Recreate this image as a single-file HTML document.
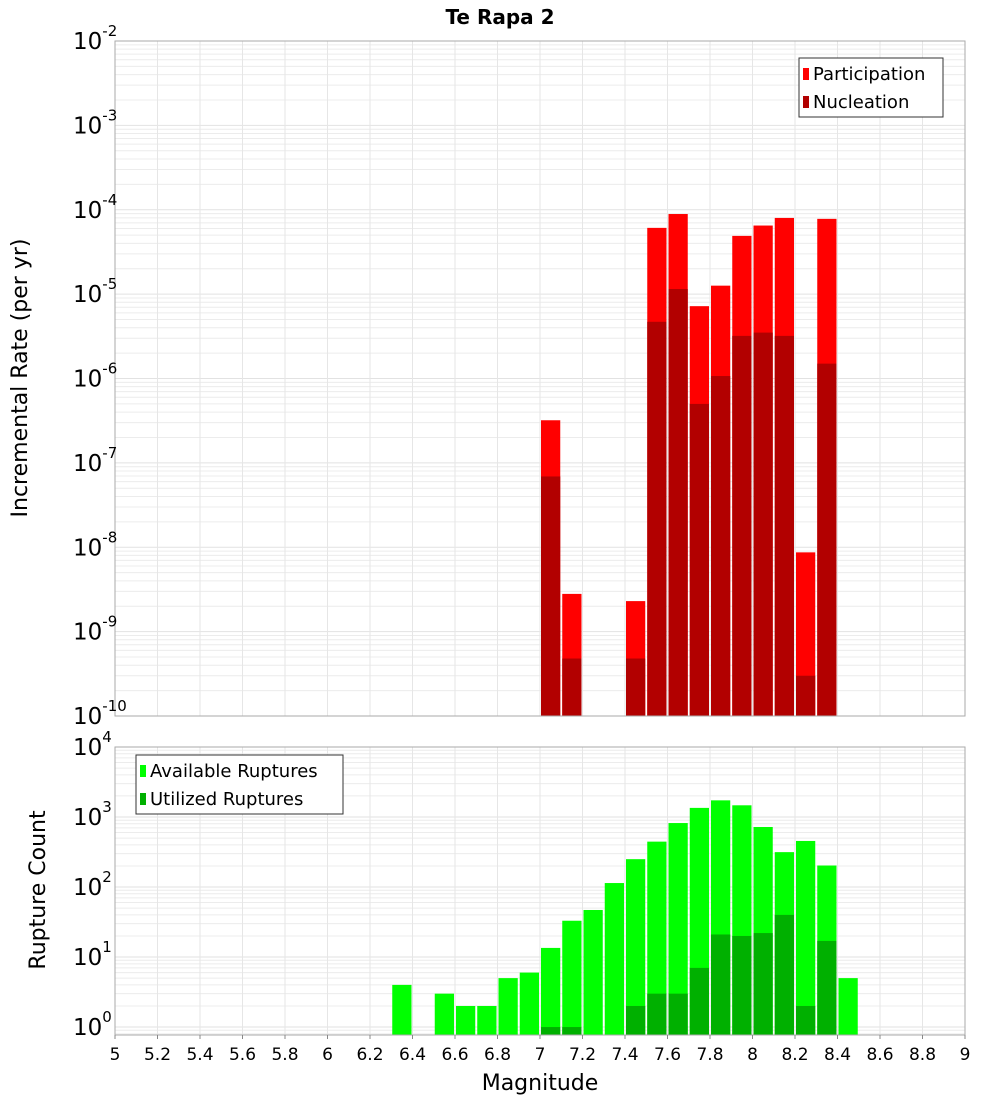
<!DOCTYPE html>
<html><head><meta charset="utf-8"><style>
body{margin:0;background:#fff;}
svg{font-family:"DejaVu Sans","Liberation Sans",sans-serif;}
</style></head><body>
<svg id="c" width="1000" height="1100" xmlns="http://www.w3.org/2000/svg">
<text x="500" y="24" text-anchor="middle" font-size="20" font-weight="bold">Te Rapa 2</text>
<g id="top"></g>
<g id="bot"></g>
<text transform="translate(27,378) rotate(-90)" text-anchor="middle" font-size="22">Incremental Rate (per yr)</text>
<text transform="translate(45,890) rotate(-90)" text-anchor="middle" font-size="22">Rupture Count</text>
<text x="540" y="1090" text-anchor="middle" font-size="22">Magnitude</text>
</svg>
<script>
const binStarts=[6.3,6.4,6.5,6.6,6.7,6.8,6.9,7.0,7.1,7.2,7.3,7.4,7.5,7.6,7.7,7.8,7.9,8.0,8.1,8.2,8.3,8.4];
const participation=[0,0,0,0,0,0,0,3.2e-7,2.8e-9,0,0,2.3e-9,6.1e-5,8.9e-5,7.2e-6,1.26e-5,4.9e-5,6.5e-5,8e-5,8.7e-9,7.8e-5,0];
const nucleation=[0,0,0,0,0,0,0,6.9e-8,4.8e-10,0,0,4.8e-10,4.7e-6,1.15e-5,5e-7,1.07e-6,3.2e-6,3.5e-6,3.2e-6,3e-10,1.5e-6,0];
const available=[4,0,3,2,2,5,6,13.5,33,47,114,250,445,820,1350,1730,1470,720,315,455,203,5];
const utilized=[0,0,0,0,0,0,0,1,1,0,0,2,3,3,7,21,20,22,40,2,17,0];
const xTicks=[5,5.2,5.4,5.6,5.8,6,6.2,6.4,6.6,6.8,7,7.2,7.4,7.6,7.8,8,8.2,8.4,8.6,8.8,9];

const NS="http://www.w3.org/2000/svg";
const svg=document.getElementById('c');
const X0=115,X1=965;
const xs=m=>X0+(m-5)/4*(X1-X0);
const T={top:41,bot:716,lo:-10,hi:-2};
const B={top:747,bot:1035,lo:Math.log10(0.77),hi:4};
const ys=(P,v)=>P.bot-(Math.log10(v)-P.lo)/(P.hi-P.lo)*(P.bot-P.top);
function mk(tag,at,parent){const e=document.createElementNS(NS,tag);for(const k in at)e.setAttribute(k,at[k]);(parent||svg).appendChild(e);return e;}

function grid(P,g){
  for(let d=Math.floor(P.lo);d<P.hi;d++){for(let k=1;k<10;k++){const v=k*Math.pow(10,d);const lv=Math.log10(v);if(lv<P.lo||lv>P.hi)continue;
    const y=ys(P,v);const l=mk('line',{x1:X0,x2:X1,y1:y,y2:y,stroke:k==1?'#e2e2e2':'#ececec','stroke-width':1},g);
    }}
  xTicks.forEach(t=>{const x=xs(t);const l=mk('line',{x1:x,x2:x,y1:P.top,y2:P.bot,stroke:'#e6e6e6','stroke-width':1},g);
    });
}
function frame(P,g){const r=mk('rect',{x:X0,y:P.top,width:X1-X0,height:P.bot-P.top,fill:'none',stroke:'#aaa','stroke-width':1},g);
  }
function ylabels(P,g,decs){decs.forEach(d=>{const y=ys(P,Math.pow(10,d));const t=mk('text',{x:107,y:y+8,'text-anchor':'end','font-size':23},g);
  
  const a=document.createElementNS(NS,'tspan');a.textContent='10';t.appendChild(a);
  const b=document.createElementNS(NS,'tspan');b.setAttribute('font-size','15');b.setAttribute('dy','-13');b.textContent=String(d);t.appendChild(b);
  t.setAttribute('x',String(73));t.setAttribute('text-anchor','start');});}
function bars(P,g,vals,color,name){binStarts.forEach((m,i)=>{const v=vals[i];if(!v)return;const x=xs(m)+1;const w=xs(m+0.1)-xs(m)-2;const y=Math.max(ys(P,v),P.top);
  const r=mk('rect',{x:x,y:y,width:w,height:P.bot-y,fill:color},g);});}
function legend(g,x,y,w,items){const r=mk('rect',{x:x,y:y,width:w,height:59,fill:'#fff',stroke:'#333','stroke-width':1},g);
  
  items.forEach((it,i)=>{const sw=mk('rect',{x:x+4,y:y+10+i*28,width:6,height:12,fill:it[1]},g);
    const t=mk('text',{x:x+14,y:y+22+i*28,'font-size':18},g);t.textContent=it[0];});}

const gt=document.getElementById('top'),gb=document.getElementById('bot');
grid(T,gt);bars(T,gt,participation,'#ff0000','bar-participation');bars(T,gt,nucleation,'#b20000','bar-nucleation');frame(T,gt);
ylabels(T,gt,[-2,-3,-4,-5,-6,-7,-8,-9,-10]);
legend(gt,799,58,144,[['Participation','#ff0000'],['Nucleation','#b20000']]);
grid(B,gb);bars(B,gb,available,'#00ff00','bar-available');bars(B,gb,utilized,'#00b000','bar-utilized');frame(B,gb);
ylabels(B,gb,[4,3,2,1,0]);
legend(gb,136,755,207,[['Available Ruptures','#00ff00'],['Utilized Ruptures','#00b000']]);
xTicks.forEach(t=>{const x=xs(t);const tk=mk('line',{x1:x,x2:x,y1:B.bot,y2:B.bot+4,stroke:'#888'},gb);
  const l=mk('text',{x:x,y:1060,'text-anchor':'middle','font-size':17},gb);l.textContent=String(Math.round(t*10)/10);});
</script>
</body></html>
